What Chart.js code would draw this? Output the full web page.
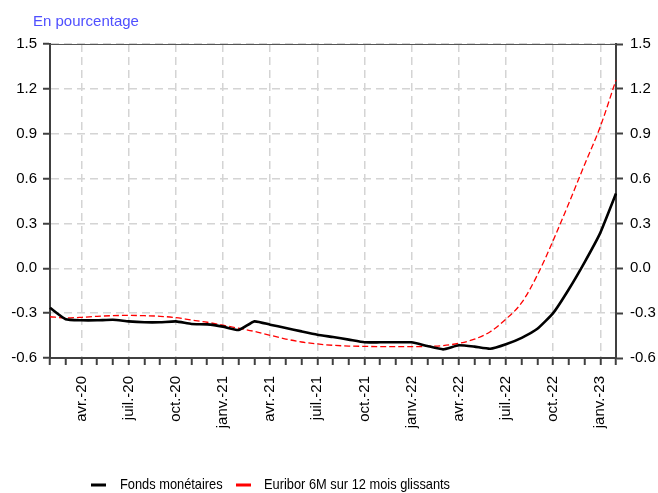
<!DOCTYPE html>
<html>
<head>
<meta charset="utf-8">
<script src="https://cdn.jsdelivr.net/npm/chart.js@4.4.1/dist/chart.umd.min.js"></script>
<style>
  html, body { margin: 0; padding: 0; background: #fff; }
  #wrap { width: 658px; height: 493px; position: relative; }
</style>
</head>
<body>
<div id="wrap"><canvas id="c" width="658" height="493"></canvas></div>
<script>
// Categories: monthly, Feb 2020 -> Feb 2023
const months = [
  'févr.-20','mars-20','avr.-20','mai-20','juin-20','juil.-20','août-20','sept.-20','oct.-20','nov.-20','déc.-20',
  'janv.-21','févr.-21','mars-21','avr.-21','mai-21','juin-21','juil.-21','août-21','sept.-21','oct.-21','nov.-21','déc.-21',
  'janv.-22','févr.-22','mars-22','avr.-22','mai-22','juin-22','juil.-22','août-22','sept.-22','oct.-22','nov.-22','déc.-22',
  'janv.-23','févr.-23'
];
// Tick labels shown on the x axis
const shownTicks = [
  'avr.-20','juil.-20','oct.-20','janv.-21','avr.-21','juil.-21','oct.-21',
  'janv.-22','avr.-22','juil.-22','oct.-22','janv.-23'
];
// Series
const fondsMonetaires = [
  -0.264, -0.341, -0.348, -0.348, -0.344, -0.355, -0.361, -0.361, -0.355, -0.373, -0.375,
  -0.390, -0.413, -0.355, -0.377, -0.399, -0.422, -0.444, -0.460, -0.477, -0.495, -0.495, -0.495,
  -0.495, -0.520, -0.542, -0.515, -0.524, -0.538, -0.508, -0.465, -0.405, -0.300, -0.140, 0.040,
  0.237, 0.500
];
const euribor6M = [
  -0.324, -0.332, -0.328, -0.321, -0.317, -0.315, -0.317, -0.321, -0.330, -0.346, -0.361,
  -0.381, -0.401, -0.422, -0.448, -0.473, -0.493, -0.506, -0.515, -0.520, -0.522, -0.524, -0.524,
  -0.524, -0.522, -0.517, -0.502, -0.474, -0.424, -0.340, -0.230, -0.045, 0.185, 0.435, 0.693,
  0.947, 1.260
];
const seriesNames = ['Fonds monétaires', 'Euribor 6M sur 12 mois glissants'];
const yTicks = { min: -0.6, max: 1.5, step: 0.3 };
const unitLabel = 'En pourcentage';

const FONT = "'Liberation Sans', Arial, sans-serif";
const AXIS = '#404040';
const GRID = '#d4d4d4';

const decorations = {
  id: 'decorations',
  afterDraw(chart) {
    const ctx = chart.ctx;
    ctx.save();
    // unit label
    ctx.font = '15px ' + FONT;
    ctx.fillStyle = '#4f4fff';
    ctx.textBaseline = 'alphabetic';
    ctx.fillText(unitLabel, 33, 26);
    // top frame line
    const a = chart.chartArea;
    ctx.strokeStyle = '#555';
    ctx.lineWidth = 1;
    ctx.beginPath();
    ctx.moveTo(a.left, a.top + 0.5);
    ctx.lineTo(a.right, a.top + 0.5);
    ctx.stroke();
    // legend (narrow text)
    const items = [
      { box: 91, text: 120 },
      { box: 236, text: 264 }
    ];
    const ly = 485;
    chart.data.datasets.forEach((ds, i) => {
      const it = items[i];
      ctx.fillStyle = ds.borderColor;
      ctx.fillRect(it.box, ly - 1.5, 15, 3);
      ctx.save();
      ctx.translate(it.text, ly);
      ctx.scale(0.855, 1);
      ctx.font = '15px ' + FONT;
      ctx.fillStyle = '#000';
      ctx.textBaseline = 'middle';
      ctx.fillText(ds.label, 0, 0);
      ctx.restore();
    });
    ctx.restore();
  }
};

const isShown = (i) => shownTicks.includes(months[i]);
const buildY = (s) => {
  const t = [];
  for (let v = yTicks.min; v <= yTicks.max + 1e-9; v += yTicks.step) t.push({ value: Math.round(v * 10) / 10 });
  s.ticks = t;
};

new Chart(document.getElementById('c'), {
  type: 'line',
  data: {
    labels: months,
    datasets: [
      {
        label: seriesNames[0],
        data: fondsMonetaires,
        borderColor: '#000000',
        backgroundColor: '#000000',
        borderWidth: 2.6,
        pointRadius: 0,
        tension: 0.15,
        yAxisID: 'y'
      },
      {
        label: seriesNames[1],
        data: euribor6M,
        borderColor: '#ff0000',
        backgroundColor: '#ff0000',
        borderWidth: 1.3,
        borderDash: [6, 3],
        pointRadius: 0,
        cubicInterpolationMode: 'monotone',
        yAxisID: 'y'
      }
    ]
  },
  options: {
    responsive: false,
    animation: false,
    devicePixelRatio: 1,
    layout: { padding: { top: 44, left: 0, right: 0, bottom: 35 } },
    plugins: {
      title: { display: false },
      tooltip: { enabled: false },
      legend: { display: false }
    },
    scales: {
      x: {
        type: 'category',
        offset: false,
        afterFit(s) { s.height = 100; },
        grid: {
          color: (c) => (isShown(c.index) ? GRID : 'rgba(0,0,0,0)'),
          lineWidth: 1.5,
          tickColor: AXIS,
          tickWidth: 2,
          tickLength: 7,
          drawOnChartArea: true
        },
        border: { display: true, color: AXIS, width: 2, dash: [8, 5] },
        ticks: {
          autoSkip: false,
          maxRotation: 90,
          minRotation: 90,
          padding: 11,
          color: '#000',
          font: { family: FONT, size: 15 },
          callback: function (v, i) { return isShown(i) ? months[i] : ''; }
        }
      },
      y: {
        position: 'left',
        min: yTicks.min,
        max: yTicks.max,
        afterFit(s) { s.width = 50; },
        afterBuildTicks: buildY,
        grid: { color: GRID, lineWidth: 1.5, tickColor: AXIS, tickWidth: 2, tickLength: 7 },
        border: { display: true, color: AXIS, width: 2, dash: [8, 5] },
        ticks: {
          padding: 6,
          color: '#000',
          font: { family: FONT, size: 15 },
          callback: (v) => Number(v).toFixed(1)
        }
      },
      y2: {
        position: 'right',
        min: yTicks.min,
        max: yTicks.max,
        afterFit(s) { s.width = 42; },
        afterBuildTicks: buildY,
        grid: { drawOnChartArea: false, tickColor: AXIS, tickWidth: 2, tickLength: 7 },
        border: { display: true, color: AXIS, width: 2 },
        ticks: {
          padding: 7,
          color: '#000',
          font: { family: FONT, size: 15 },
          callback: (v) => Number(v).toFixed(1)
        }
      }
    }
  },
  plugins: [decorations]
});
</script>
</body>
</html>
